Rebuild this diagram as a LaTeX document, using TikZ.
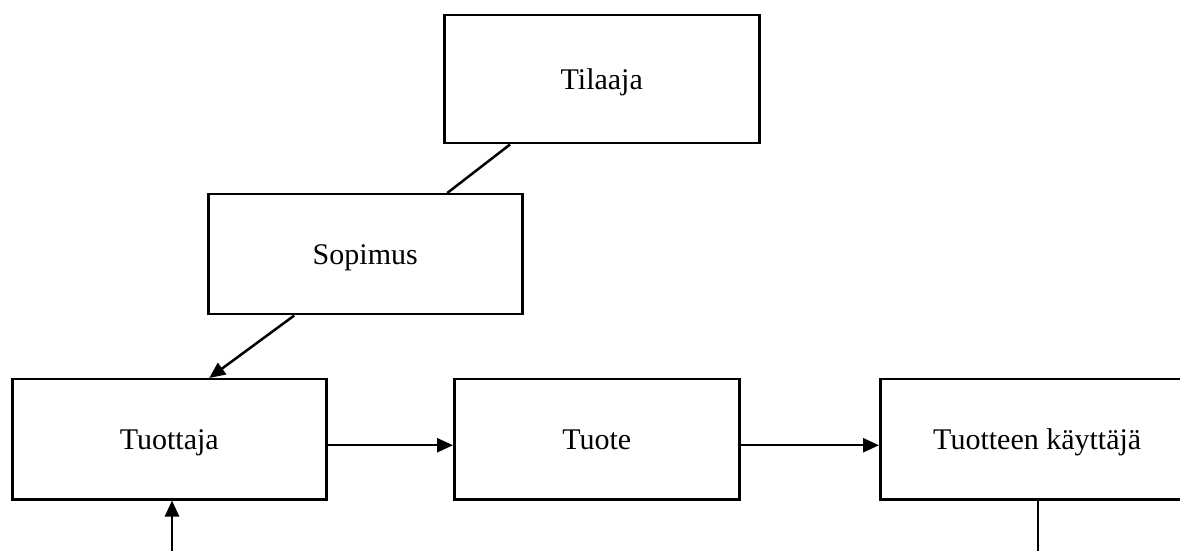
\documentclass[tikz,border=0pt]{standalone}
\usepackage{fontspec}
\setmainfont{Liberation Serif}
\usetikzlibrary{arrows.meta}
\tikzstyle{party} = [rectangle, draw=black, line width=1pt, minimum height=48pt, anchor=north west, text height=9pt, text depth=1pt, font=\fontsize{12}{14}\selectfont]
\tikzstyle{link} = [line width=1pt]
\tikzstyle{flow} = [link, -{Triangle[length=6.4pt,width=5.6pt]}]

\begin{document}
\begin{tikzpicture}[x=.4pt, y=-.4pt]
				\useasboundingbox (0,0) rectangle (1180,551);
				% osapuolet
				\node [party, minimum width=126pt, minimum height=51.2pt] (tilaaja) at (443,14) {Tilaaja};
				\node [party, minimum width=125.6pt] (sopimus) at (207,193) {Sopimus};
				\node [party, minimum width=125.6pt] (tuottaja) at (11,378) {Tuottaja};
				\node [party, minimum width=114pt] (tuote) at (453,378) {Tuote};
				\node [party, minimum width=125.6pt] (kayttaja) at (879,378) {Tuotteen käyttäjä};
				\coordinate (alku) at (172,551);
				\coordinate (loppu) at (1038,551);
				% yhteydet
				\draw [link] ([xshift=26.8pt]tilaaja.south west) -- ([xshift=32.8pt]sopimus.north);
				\draw [flow] ([xshift=-28.4pt]sopimus.south) -- ([xshift=16pt]tuottaja.north);
				\draw [flow] ([yshift=-2.4pt]tuottaja.east) -- ([yshift=-2.4pt]tuote.west);
				\draw [flow] ([yshift=-2.4pt]tuote.east) -- ([yshift=-2.4pt]kayttaja.west);
				\draw [flow] (alku) -- (alku |- tuottaja.south);
				\draw [link] (kayttaja.south -| loppu) -- (loppu);
	\end{tikzpicture}
\end{document}
